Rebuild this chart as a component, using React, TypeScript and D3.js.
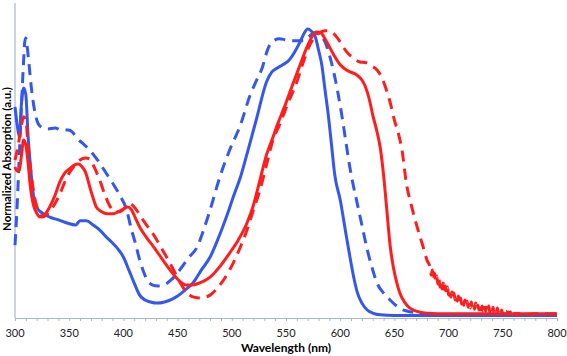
import React, { useRef, useEffect } from "react";
import * as d3 from "d3";

// [wavelength (nm), normalized absorption]
const blueSolid: [number, number][] = [
  [300, 0.731], [302, 0.668], [304, 0.626], [306, 0.745], [308, 0.797], [310, 0.773],
  [312, 0.633], [314, 0.535], [317, 0.423], [320, 0.381], [325, 0.36], [332, 0.346],
  [340, 0.336], [348, 0.325], [356, 0.318], [360, 0.333], [366, 0.333], [372, 0.318],
  [378, 0.301], [385, 0.273], [390, 0.255], [395, 0.234], [400, 0.206], [405, 0.161],
  [410, 0.115], [415, 0.073], [420, 0.056], [425, 0.049], [431, 0.045], [438, 0.049],
  [445, 0.059], [450, 0.07], [457, 0.091], [464, 0.115], [472, 0.161], [480, 0.206],
  [488, 0.276], [495, 0.346], [502, 0.423], [508, 0.486], [515, 0.58], [523, 0.692],
  [532, 0.818], [537, 0.853], [542, 0.867], [547, 0.878], [553, 0.895], [558, 0.923],
  [563, 0.958], [567, 0.99], [570, 1.003], [573, 0.997], [577, 0.976], [580, 0.93],
  [583, 0.878], [586, 0.79], [589, 0.703], [592, 0.598], [595, 0.493], [600, 0.406],
  [605, 0.294], [609, 0.206], [613, 0.126], [616, 0.08], [620, 0.045], [625, 0.021],
  [630, 0.01], [637, 0.004], [650, 0.002], [700, 0.002], [800, 0.002],
];

const blueDashed: [number, number][] = [
  [300, 0.248], [302, 0.388], [304, 0.563], [306, 0.738], [308, 0.895], [309, 0.958],
  [310, 0.972], [311, 0.948], [313, 0.878], [315, 0.801], [318, 0.72], [321, 0.675],
  [324, 0.661], [330, 0.654], [337, 0.657], [343, 0.65], [349, 0.65], [353, 0.643],
  [357, 0.622], [362, 0.605], [369, 0.58], [374, 0.556], [378, 0.535], [384, 0.5],
  [390, 0.465], [397, 0.42], [403, 0.371], [407, 0.308], [411, 0.255], [415, 0.196],
  [418, 0.161], [422, 0.126], [427, 0.108], [432, 0.105], [437, 0.108], [444, 0.126],
  [452, 0.161], [460, 0.203], [468, 0.241], [474, 0.301], [480, 0.371], [489, 0.486],
  [498, 0.58], [508, 0.668], [517, 0.773], [523, 0.825], [528, 0.867], [533, 0.93],
  [537, 0.958], [544, 0.969], [550, 0.965], [557, 0.962], [566, 0.962], [571, 0.976],
  [576, 0.99], [580, 0.983], [586, 0.958], [590, 0.913], [594, 0.853], [601, 0.713],
  [605, 0.615], [609, 0.517], [612, 0.458], [615, 0.406], [620, 0.318], [625, 0.231],
  [630, 0.161], [634, 0.115], [640, 0.08], [646, 0.056], [652, 0.035], [658, 0.021],
  [666, 0.014], [674, 0.01], [690, 0.003], [720, 0.002], [800, 0.002],
];

const redSolid: [number, number][] = [
  [300, 0.521], [302, 0.507], [304, 0.51], [306, 0.563], [308, 0.615], [310, 0.598],
  [312, 0.538], [314, 0.458], [317, 0.388], [320, 0.36], [323, 0.346], [327, 0.353],
  [332, 0.381], [337, 0.423], [341, 0.465], [346, 0.5], [351, 0.517], [355, 0.528],
  [358, 0.531], [362, 0.521], [365, 0.503], [369, 0.451], [372, 0.413], [375, 0.381],
  [380, 0.364], [385, 0.357], [390, 0.357], [395, 0.364], [400, 0.374], [404, 0.381],
  [407, 0.374], [411, 0.343], [415, 0.311], [421, 0.276], [428, 0.241], [435, 0.203],
  [443, 0.161], [449, 0.133], [454, 0.115], [458, 0.108], [463, 0.108], [470, 0.115],
  [480, 0.136], [490, 0.178], [498, 0.22], [506, 0.266], [514, 0.325], [520, 0.388],
  [526, 0.476], [532, 0.563], [537, 0.615], [542, 0.668], [550, 0.745], [557, 0.818],
  [563, 0.878], [569, 0.937], [574, 0.976], [578, 0.993], [582, 0.99], [586, 0.969],
  [589, 0.948], [594, 0.913], [600, 0.878], [607, 0.857], [615, 0.843], [620, 0.825],
  [623, 0.804], [627, 0.755], [630, 0.703], [634, 0.643], [637, 0.587], [640, 0.493],
  [643, 0.371], [646, 0.248], [649, 0.171], [652, 0.119], [655, 0.08], [660, 0.045],
  [664, 0.028], [670, 0.017], [680, 0.01], [700, 0.008], [800, 0.008],
];

// the tail past ~683 nm is noisy in the measurement
const redDashed: [number, number][] = [
  [300, 0.545], [303, 0.598], [306, 0.668], [308, 0.696], [310, 0.685], [312, 0.598],
  [315, 0.493], [318, 0.416], [322, 0.364], [325, 0.346], [330, 0.357], [335, 0.381],
  [341, 0.423], [348, 0.486], [354, 0.521], [360, 0.545], [365, 0.552], [369, 0.549],
  [373, 0.521], [378, 0.476], [383, 0.423], [388, 0.381], [393, 0.364], [397, 0.364],
  [402, 0.381], [406, 0.392], [410, 0.381], [414, 0.36], [418, 0.336], [428, 0.283],
  [436, 0.231], [443, 0.185], [451, 0.126], [459, 0.08], [465, 0.066], [471, 0.063],
  [476, 0.066], [480, 0.073], [489, 0.108], [498, 0.161], [506, 0.224], [514, 0.301],
  [520, 0.371], [526, 0.441], [532, 0.528], [538, 0.615], [544, 0.668], [552, 0.745],
  [560, 0.818], [566, 0.888], [572, 0.948], [577, 0.976], [581, 0.99], [586, 0.997],
  [590, 0.997], [595, 0.983], [600, 0.958], [606, 0.923], [612, 0.902], [618, 0.888],
  [624, 0.885], [629, 0.874], [634, 0.86], [638, 0.836], [641, 0.808], [644, 0.773],
  [646, 0.748], [650, 0.685], [654, 0.633], [657, 0.58], [661, 0.465], [666, 0.381],
  [671, 0.311], [676, 0.248], [680, 0.196],
  [683, 0.168], [684, 0.143], [685, 0.161], [686, 0.129], [687, 0.15], [688, 0.122],
  [689, 0.14], [690, 0.112], [691, 0.136], [692, 0.101], [693, 0.122], [694, 0.094],
  [695, 0.115], [696, 0.087], [697, 0.105], [698, 0.08], [699, 0.101], [700, 0.073],
  [701, 0.094], [702, 0.066], [703, 0.084], [704, 0.063], [705, 0.08], [706, 0.056],
  [707, 0.073], [708, 0.052], [709, 0.07], [710, 0.045], [711, 0.063], [712, 0.042],
  [713, 0.059], [714, 0.038], [715, 0.056], [716, 0.035], [717, 0.052], [718, 0.031],
  [719, 0.049], [720, 0.028], [721, 0.049], [722, 0.028], [723, 0.042], [724, 0.024],
  [725, 0.045], [726, 0.024], [727, 0.038], [728, 0.021], [729, 0.042], [730, 0.021],
  [731, 0.035], [732, 0.017], [733, 0.038], [734, 0.017], [735, 0.031], [736, 0.014],
  [737, 0.035], [738, 0.014], [739, 0.028], [740, 0.014], [741, 0.031], [742, 0.01],
  [743, 0.024], [744, 0.01], [745, 0.028], [746, 0.01], [747, 0.021], [748, 0.007],
  [749, 0.021], [750, 0.007], [751, 0.017], [752, 0.007], [753, 0.017], [754, 0.007],
  [755, 0.014], [756, 0.007], [757, 0.014], [758, 0.007], [759, 0.014], [760, 0.005],
  [761, 0.01], [762, 0.005], [763, 0.01], [764, 0.005], [765, 0.01], [766, 0.005],
  [767, 0.008], [768, 0.005], [769, 0.008], [770, 0.006], [780, 0.008], [800, 0.008],
];

const xTicks = [300, 350, 400, 450, 500, 550, 600, 650, 700, 750, 800];

const BLUE = "#3457EE";
const RED = "#FF1E1E";
const AXIS = "#A9B7C6";

const App = () => {
  const svgRef = useRef<SVGSVGElement>(null);
  const width = 567;
  const height = 356;

  useEffect(() => {
    const svg = d3.select(svgRef.current);
    svg.selectChildren().remove();

    const x = d3.scaleLinear().domain([300, 800]).range([15, 557]);
    const y = d3.scaleLinear().domain([-0.007, 1.094]).range([318, 3]);

    // y axis: plain line, no ticks
    svg.append("line")
      .attr("x1", x(300)).attr("x2", x(300))
      .attr("y1", y(1.094)).attr("y2", y(-0.007))
      .attr("stroke", AXIS).attr("stroke-width", 1.2);

    const xAxis = d3.axisBottom(x)
      .tickValues(d3.range(300, 801, 10))
      .tickSize(3)
      .tickFormat(() => "");
    const gx = svg.append("g")
      .attr("transform", `translate(0, ${y(-0.007)})`)
      .call(xAxis);
    gx.select(".domain").attr("stroke", AXIS).attr("stroke-width", 1.2);
    gx.selectAll(".tick line").attr("stroke", AXIS);

    svg.append("g")
      .selectAll("text")
      .data(xTicks)
      .join("text")
      .attr("x", d => x(d))
      .attr("y", 337)
      .attr("text-anchor", "middle")
      .style("font-family", "Lato, 'Open Sans', sans-serif")
      .style("font-size", "11px")
      .attr("fill", "#222")
      .text(d => d);

    svg.append("text")
      .attr("x", (x(300) + x(800)) / 2)
      .attr("y", 352)
      .attr("text-anchor", "middle")
      .style("font-family", "Lato, 'Open Sans', sans-serif")
      .style("font-size", "12px")
      .style("font-weight", "bold")
      .text("Wavelength (nm)");

    svg.append("text")
      .attr("transform", `translate(11, 159) rotate(-90)`)
      .attr("text-anchor", "middle")
      .style("font-family", "Lato, 'Open Sans', sans-serif")
      .style("font-size", "11.4px")
      .style("font-weight", "bold")
      .text("Normalized Absorption (a.u.)");

    const line = d3.line<[number, number]>()
      .x(d => x(d[0]))
      .y(d => y(d[1]))
      .curve(d3.curveMonotoneX);

    const series = [
      { data: blueSolid, color: BLUE, dash: null },
      { data: blueDashed, color: BLUE, dash: "11,7" },
      { data: redSolid, color: RED, dash: null },
      { data: redDashed, color: RED, dash: "11,7" },
    ];

    const g = svg.append("g").classed("graph", true);
    series.forEach(s => {
      g.append("path")
        .datum(s.data)
        .attr("fill", "none")
        .attr("stroke", s.color)
        .attr("stroke-width", 3)
        .attr("stroke-linejoin", "round")
        .attr("stroke-dasharray", s.dash)
        .attr("d", line);
    });
  });

  return (
    <div style={{ position: "absolute", left: 0, top: 0 }}>
      <svg ref={svgRef} width={width} height={height} style={{ display: "block", background: "#fff" }}>
      </svg>
    </div>
  );
};

export default App;
